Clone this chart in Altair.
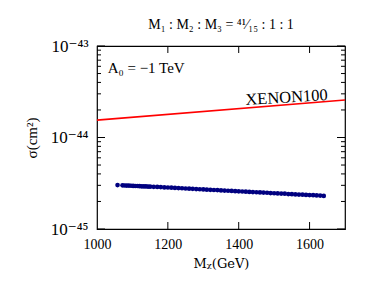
import altair as alt
import pandas as pd

# ---- data ----
scan_mass = [1058, 1072, 1078, 1084, 1090, 1096, 1102, 1108, 1114, 1120, 1126, 1132, 1138, 1144, 1150,
             1160, 1170, 1180, 1190, 1200, 1210, 1220, 1230, 1240, 1250, 1260, 1270, 1280, 1290,
             1300, 1310, 1320, 1330, 1340, 1350, 1360, 1370, 1380, 1390, 1400, 1410, 1420, 1430,
             1440, 1450, 1460, 1470, 1480, 1490, 1500, 1510, 1520, 1530, 1540, 1550, 1560, 1570,
             1580, 1590, 1600, 1610, 1620, 1630, 1640]
scan_sigma_e45 = [3.02, 3.00, 2.99, 2.98, 2.98, 2.97, 2.96, 2.95, 2.95, 2.94, 2.93, 2.92, 2.92, 2.91, 2.90,
                  2.89, 2.88, 2.87, 2.85, 2.84, 2.83, 2.81, 2.80, 2.79, 2.77, 2.76, 2.75, 2.73, 2.72,
                  2.71, 2.69, 2.68, 2.67, 2.66, 2.64, 2.63, 2.62, 2.61, 2.59, 2.58, 2.57, 2.56, 2.54,
                  2.53, 2.52, 2.51, 2.50, 2.49, 2.47, 2.46, 2.45, 2.44, 2.43, 2.41, 2.40, 2.39, 2.38,
                  2.37, 2.36, 2.35, 2.34, 2.33, 2.32, 2.30]

xenon_mass = [1000, 1700]
xenon_sigma = [1.55e-44, 2.57e-44]

x_major = [1200, 1400, 1600]
y_major = [1e-45, 1e-44, 1e-43]
y_minor = [2e-45, 3e-45, 4e-45, 5e-45, 6e-45, 7e-45, 8e-45, 9e-45,
           2e-44, 3e-44, 4e-44, 5e-44, 6e-44, 7e-44, 8e-44, 9e-44]

labels_text = ["A\u2080 = \u22121 TeV", "XENON100"]
labels_x = [1030, 1536]
labels_y = [5.8e-44, 2.41e-44]

# ---- tables ----
scan = pd.DataFrame({"m": scan_mass, "s": [v * 1e-45 for v in scan_sigma_e45]})
xenon = pd.DataFrame({"m": xenon_mass, "s": xenon_sigma})
xt = pd.DataFrame({"m": x_major})
ytM = pd.DataFrame({"s": y_major})
ytm = pd.DataFrame({"s": y_minor})

W, H = 248, 183
FONT = "Liberation Serif, DejaVu Serif, serif"

xs = alt.Scale(domain=[1000, 1700], nice=False, zero=False)
ys = alt.Scale(type="log", domain=[1e-45, 1e-43], nice=False)

y_label_expr = ("'10' + (datum.value < 5e-45 ? '\u207b\u2074\u2075' : "
                "(datum.value < 5e-44 ? '\u207b\u2074\u2074' : '\u207b\u2074\u00b3'))")

points = alt.Chart(scan).mark_circle(size=22, color="#000080", opacity=1).encode(
    x=alt.X("m:Q", scale=xs, axis=alt.Axis(values=[1000, 1200, 1400, 1600], ticks=False, domain=False,
                                           grid=False, labelPadding=8, labelFlush=False,
                                           title="M\u1d6a(GeV)", titlePadding=6, format="d",
                                           labelFont=FONT, labelFontSize=14, labelColor="black",
                                           titleFont="DejaVu Serif", titleFontSize=13,
                                           titleFontWeight="normal", titleColor="black")),
    y=alt.Y("s:Q", scale=ys, axis=alt.Axis(values=y_major, ticks=False, domain=False, grid=False,
                                           labelExpr=y_label_expr, labelPadding=9, labelFlush=False,
                                           title="\u03c3(cm\u00b2)", titlePadding=11,
                                           labelFont=FONT, labelFontSize=17, labelColor="black",
                                           titleFont=FONT, titleFontSize=15, titleFontWeight="normal",
                                           titleColor="black")),
)

line = alt.Chart(xenon).mark_line(color="#ff0000", strokeWidth=1.6).encode(
    x=alt.X("m:Q", scale=xs), y=alt.Y("s:Q", scale=ys))

ldf = pd.DataFrame({"t": labels_text, "m": labels_x, "s": labels_y})
txt1 = alt.Chart(ldf.iloc[[0]]).mark_text(align="left", baseline="middle", font=FONT, fontSize=15,
                                          color="black").encode(
    x=alt.X("m:Q", scale=xs), y=alt.Y("s:Q", scale=ys), text="t:N")
txt2 = alt.Chart(ldf.iloc[[1]]).mark_text(align="center", baseline="alphabetic", font=FONT,
                                          fontSize=16.5, color="black", angle=356.5).encode(
    x=alt.X("m:Q", scale=xs), y=alt.Y("s:Q", scale=ys), text="t:N")

def xtick(y0, y1):
    return alt.Chart(xt).mark_rule(color="black", strokeWidth=1).encode(
        x=alt.X("m:Q", scale=xs), y=alt.value(y0), y2=alt.value(y1))

def ytick(data, x0, x1):
    return alt.Chart(data).mark_rule(color="black", strokeWidth=1).encode(
        y=alt.Y("s:Q", scale=ys), x=alt.value(x0), x2=alt.value(x1))

ticks = [xtick(0, 7), xtick(H, H - 7),
         ytick(ytM, 0, 8), ytick(ytM, W, W - 8),
         ytick(ytm, 0, 4), ytick(ytm, W, W - 4)]

chart = alt.layer(points, line, txt1, txt2, *ticks).properties(
    width=W, height=H,
    background="white",
    padding={"left": 89, "top": 38, "right": 21, "bottom": 45},
    autosize=alt.AutoSizeParams(type="none"),
    title=alt.TitleParams("M\u2081 : M\u2082 : M\u2083 = \u2074\u00b9\u2044\u2081\u2085 : 1 : 1",
                          font=FONT, fontSize=14, fontWeight="normal", offset=5, anchor="middle"),
).configure_view(stroke="black", strokeWidth=1.2)

chart.save("out.html", embed_options={"renderer": "svg", "actions": False})
